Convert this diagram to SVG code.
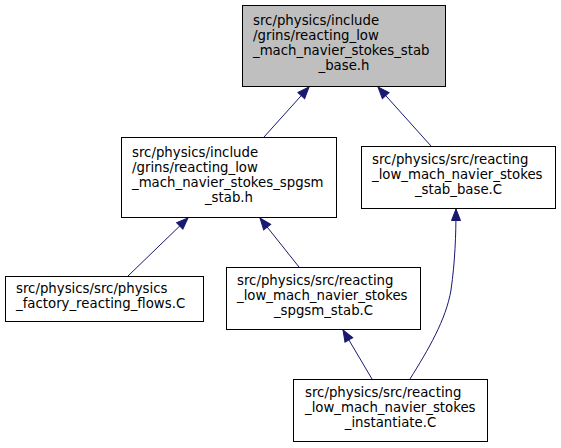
<svg xmlns="http://www.w3.org/2000/svg" width="561" height="448" viewBox="0 0 561 448">
<style>
.box{fill:#ffffff;stroke:#000000;stroke-width:1}
.cur{fill:#bfbfbf;stroke:#000000;stroke-width:1}
text{font-family:"DejaVu Sans",sans-serif;font-size:13.3px;fill:#000000}
.c{text-anchor:middle}
.edge{fill:none;stroke:#191970;stroke-width:1}
</style>
<defs>
<marker id="ah" markerUnits="userSpaceOnUse" markerWidth="14" markerHeight="12" refX="12" refY="5" orient="auto" viewBox="0 0 14 10" overflow="visible">
<path d="M0.5,0.5 L12,5 L0.5,9.5 z" fill="#191970" stroke="#191970" stroke-width="1"/>
</marker>
</defs>
<rect width="561" height="448" fill="#ffffff"/>
<g id="connectors">
<path class="edge" d="M264,137 L309,87" marker-end="url(#ah)"/>
<path class="edge" d="M431,146 L378,87" marker-end="url(#ah)"/>
<path class="edge" d="M128,276 L188,218" marker-end="url(#ah)"/>
<path class="edge" d="M299,267 L260,218" marker-end="url(#ah)"/>
<path class="edge" d="M372,379 L343,330" marker-end="url(#ah)"/>
<path class="edge" d="M410,379 C428,350 446,320 451,290 C455,262 456,235 456,209" marker-end="url(#ah)"/>
</g>
<g id="node_stab_base_h">
<rect class="cur" x="242.5" y="5.5" width="203" height="81"/>
<text x="253" y="25">src/physics/include</text>
<text x="253" y="40">/grins/reacting_low</text>
<text x="253" y="55">_mach_navier_stokes_stab</text>
<text class="c" x="344" y="70">_base.h</text>
</g>
<g id="node_spgsm_stab_h">
<rect class="box" x="121.5" y="137.5" width="215" height="80"/>
<text x="132" y="157">src/physics/include</text>
<text x="132" y="172">/grins/reacting_low</text>
<text x="132" y="187">_mach_navier_stokes_spgsm</text>
<text class="c" x="229" y="202">_stab.h</text>
</g>
<g id="node_stab_base_C">
<rect class="box" x="361.5" y="146.5" width="194" height="62"/>
<text x="372" y="164">src/physics/src/reacting</text>
<text x="372" y="179">_low_mach_navier_stokes</text>
<text class="c" x="458.5" y="194">_stab_base.C</text>
</g>
<g id="node_factory">
<rect class="box" x="5.5" y="276.5" width="198" height="45"/>
<text x="16" y="293">src/physics/src/physics</text>
<text x="16" y="308">_factory_reacting_flows.C</text>
</g>
<g id="node_spgsm_stab_C">
<rect class="box" x="226.5" y="267.5" width="194" height="62"/>
<text x="237" y="285">src/physics/src/reacting</text>
<text x="237" y="300">_low_mach_navier_stokes</text>
<text class="c" x="323.5" y="315">_spgsm_stab.C</text>
</g>
<g id="node_instantiate">
<rect class="box" x="293.5" y="379.5" width="194" height="62"/>
<text x="305" y="397">src/physics/src/reacting</text>
<text x="305" y="412">_low_mach_navier_stokes</text>
<text class="c" x="390.5" y="427">_instantiate.C</text>
</g>
</svg>
